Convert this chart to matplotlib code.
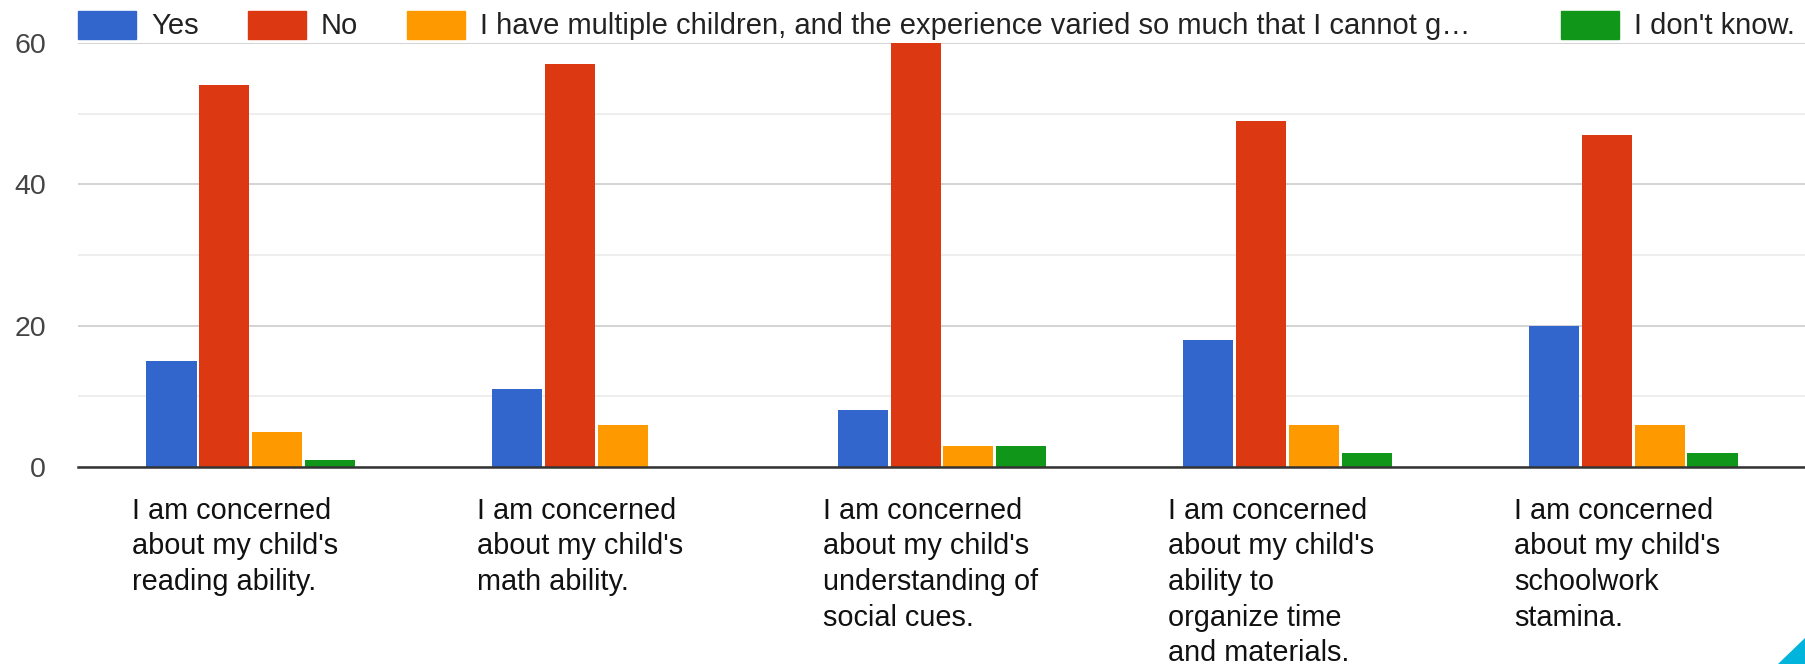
import matplotlib.pyplot as plt
import matplotlib.patches as mpatches
import numpy as np

plt.rcParams['font.family'] = ['Liberation Sans', 'DejaVu Sans']

categories = [
    "I am concerned\nabout my child's\nreading ability.",
    "I am concerned\nabout my child's\nmath ability.",
    "I am concerned\nabout my child's\nunderstanding of\nsocial cues.",
    "I am concerned\nabout my child's\nability to\norganize time\nand materials.",
    "I am concerned\nabout my child's\nschoolwork\nstamina.",
]
series_names = ["Yes", "No",
                "I have multiple children, and the experience varied so much that I cannot g\u2026",
                "I don't know."]
yes = [15, 11, 8, 18, 20]
no = [54, 57, 60, 49, 47]
multiple = [5, 6, 3, 6, 6]
dont_know = [1, 0, 3, 2, 2]
colors = ['#3366CC', '#DC3912', '#FF9900', '#109618']

W, H = 1806, 664
fig = plt.figure(figsize=(W / 100, H / 100), dpi=100)
# plot area in pixels: x 78..1806, y 43..467
ax = fig.add_axes([78 / W, 1 - 467 / H, 1728 / W, 424 / H])

x = np.arange(len(categories))
pitch = 0.153
bw = 0.145
for i, vals in enumerate([yes, no, multiple, dont_know]):
    ax.bar(x + (i - 1.5) * pitch, vals, width=bw, color=colors[i], zorder=3)

ax.set_xlim(-0.5, len(categories) - 0.5)
ax.set_ylim(0, 60)
ax.set_yticks([0, 20, 40, 60])
ax.set_yticks([10, 30, 50], minor=True)
ax.grid(axis='y', which='major', color='#cccccc', linewidth=1.2, zorder=0)
ax.grid(axis='y', which='minor', color='#ebebeb', linewidth=1.2, zorder=0)
ax.tick_params(axis='y', which='both', length=0, pad=23, labelsize=20.5, labelcolor='#444444')
ax.set_xticks([])
for s in ['top', 'right', 'left']:
    ax.spines[s].set_visible(False)
ax.spines['bottom'].set_color('#333333')
ax.spines['bottom'].set_linewidth(1.8)
ax.spines['bottom'].set_zorder(4)

# category labels, wrapped and left aligned under each group (last one runs off the bottom as in the screenshot)
for i, lab in enumerate(categories):
    ax.text(i - 0.345, -4.2, lab, ha='left', va='top', fontsize=20.8, color='#111111',
            linespacing=1.35, transform=ax.transData)

# legend along the top
box_x = [78, 248, 407, 1561]
for i, name in enumerate(series_names):
    fig.patches.append(mpatches.Rectangle((box_x[i] / W, 1 - 39 / H), 58 / W, 28 / H,
                                          transform=fig.transFigure, color=colors[i], zorder=5))
    fig.text((box_x[i] + 73) / W, 1 - 26 / H, name, ha='left', va='center',
             fontsize=21, color='#222222', zorder=5)

# corner marker from the screenshot
fig.patches.append(mpatches.Polygon([[1778 / W, 0], [1, 0], [1, 27 / H]], closed=True,
                                    transform=fig.transFigure, color='#00B4DC'))

fig.savefig('out.png', dpi=100)
